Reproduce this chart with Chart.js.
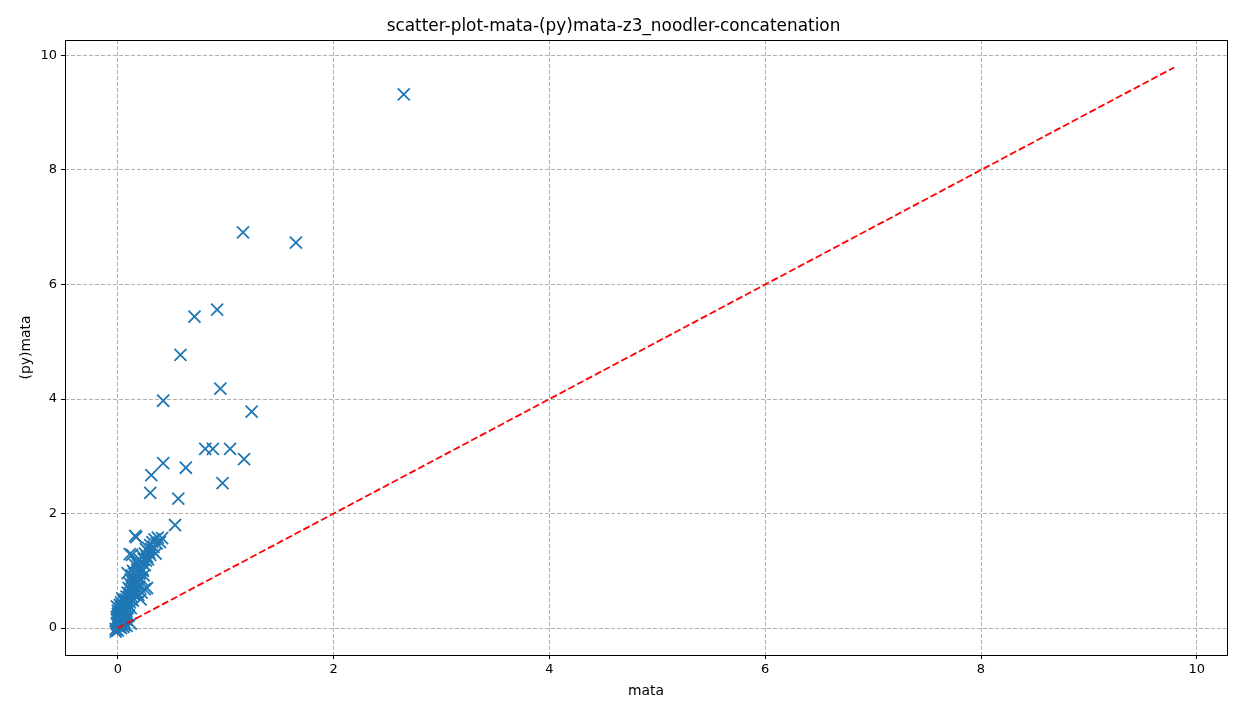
<!DOCTYPE html>
<html>
<head>
<meta charset="utf-8">
<script src="https://cdn.jsdelivr.net/npm/chart.js@4"></script>
<style>
html,body{margin:0;padding:0;background:#fff;}
#wrap{width:1247px;height:719px;}
</style>
</head>
<body>
<div id="wrap"><canvas id="c" width="1247" height="719"></canvas></div>
<script>
const chartTitle = "scatter-plot-mata-(py)mata-z3_noodler-concatenation";
const xLabel = "mata";
const yLabel = "(py)mata";

const mataX = [
  2.65, 1.16, 1.65, 0.71, 0.92, 0.58, 0.95, 0.42, 1.24, 0.81, 0.88, 1.04, 1.17, 0.63, 0.42, 0.31, 0.30, 0.56, 0.97, 0.53,
  0.00, 0.00, 0.00, 0.00, 0.00, -0.01, -0.01, 0.01, 0.01, 0.01, 0.01, 0.01, 0.02, 0.02, 0.02, 0.02, 0.02, 0.03, 0.03, 0.03,
  0.03, 0.03, 0.04, 0.04, 0.04, 0.04, 0.05, 0.05, 0.05, 0.05, 0.05, 0.06, 0.06, 0.06, 0.06, 0.07, 0.07, 0.07, 0.08, 0.08,
  0.08, 0.08, 0.09, 0.09, 0.09, 0.10, 0.10, 0.10, 0.10, 0.11, 0.11, 0.11, 0.12, 0.12, 0.12, 0.12, 0.13, 0.13, 0.13, 0.14,
  0.14, 0.14, 0.14, 0.15, 0.15, 0.15, 0.16, 0.16, 0.16, 0.17, 0.17, 0.17, 0.18, 0.18, 0.18, 0.19, 0.19, 0.20, 0.20, 0.20,
  0.21, 0.21, 0.22, 0.22, 0.23, 0.23, 0.24, 0.24, 0.25, 0.25, 0.26, 0.26, 0.27, 0.28, 0.28, 0.29, 0.30, 0.30, 0.31, 0.32,
  0.33, 0.34, 0.35, 0.36, 0.37, 0.39, 0.41, 0.27, 0.25, 0.22, 0.17, 0.16, 0.13, 0.11, 0.09, -0.02, 0.05, 0.12, 0.19, 0.23,
  -0.02, 0.00, 0.03, 0.06, 0.08, 0.02, -0.01, 0.04
];
const pymataY = [
  9.32, 6.91, 6.73, 5.44, 5.56, 4.77, 4.18, 3.97, 3.78, 3.13, 3.13, 3.13, 2.95, 2.80, 2.88, 2.67, 2.36, 2.26, 2.53, 1.80,
  0.05, 0.12, 0.18, 0.25, 0.30, 0.08, 0.15, 0.02, 0.10, 0.20, 0.28, 0.35, 0.05, 0.15, 0.22, 0.32, 0.40, 0.08, 0.18, 0.26,
  0.36, 0.45, 0.12, 0.22, 0.30, 0.42, 0.03, 0.15, 0.28, 0.38, 0.48, 0.10, 0.20, 0.33, 0.45, 0.25, 0.38, 0.50, 0.15, 0.30,
  0.44, 0.55, 0.35, 0.48, 0.62, 0.22, 0.40, 0.55, 0.70, 0.45, 0.60, 0.78, 0.35, 0.50, 0.66, 0.85, 0.55, 0.72, 0.92, 0.48,
  0.62, 0.80, 1.00, 0.58, 0.75, 0.95, 0.65, 0.85, 1.10, 0.70, 0.92, 1.15, 0.62, 0.80, 1.02, 0.88, 1.10, 0.72, 0.95, 1.20,
  0.50, 1.05, 0.85, 1.15, 1.00, 1.25, 0.92, 1.20, 1.10, 1.30, 1.18, 1.38, 1.25, 1.20, 1.40, 1.32, 1.45, 1.28, 1.38, 1.50,
  1.42, 1.55, 1.30, 1.48, 1.58, 1.50, 1.57, 0.70, 0.68, 0.62, 1.59, 1.61, 1.28, 1.29, 0.96, -0.02, 0.02, 0.08, 0.58, 1.02,
  -0.06, -0.04, 0.00, 0.06, 0.04, 0.40, 0.38, 0.52
];
const diagX = [0, 9.79];
const diagY = [0, 9.79];

const scatterPts = mataX.map((x, i) => ({x: x, y: pymataY[i]}));
const diagPts = diagX.map((x, i) => ({x: x, y: diagY[i]}));

const framePlugin = {
  id: 'frame',
  afterDraw(chart) {
    const {ctx, chartArea: a} = chart;
    ctx.save();
    ctx.strokeStyle = '#000';
    ctx.lineWidth = 1;
    ctx.strokeRect(Math.round(a.left) + 0.5, Math.round(a.top) + 0.5, Math.round(a.right - a.left), Math.round(a.bottom - a.top));
    ctx.restore();
  }
};

const tickFont = {family: "'DejaVu Sans', sans-serif", size: 13};
const labelFont = {family: "'DejaVu Sans', sans-serif", size: 13.9};

new Chart(document.getElementById('c'), {
  type: 'scatter',
  data: {
    datasets: [
      {
        data: scatterPts,
        pointStyle: 'crossRot',
        radius: 8.5,
        hoverRadius: 8.5,
        borderColor: '#1f77b4',
        backgroundColor: '#1f77b4',
        borderWidth: 1.8,
        order: 2
      },
      {
        type: 'line',
        data: diagPts,
        borderColor: '#ff0000',
        borderWidth: 1.8,
        borderDash: [7, 3],
        pointRadius: 0,
        fill: false,
        order: 1
      }
    ]
  },
  options: {
    responsive: false,
    animation: false,
    events: [],
    layout: {padding: {left: 0, right: 20, top: 0, bottom: 0}},
    plugins: {
      legend: {display: false},
      tooltip: {enabled: false},
      title: {
        display: true,
        text: chartTitle,
        color: '#000',
        font: {family: "'DejaVu Sans', sans-serif", size: 16.9, weight: 'normal'},
        padding: {top: 16.5, bottom: 3.2}
      }
    },
    scales: {
      x: {
        type: 'linear',
        min: -0.49,
        max: 10.28,
        afterFit(s) { s.height = 64; },
        ticks: {stepSize: 2, includeBounds: false, color: '#000', font: tickFont, padding: 3, maxRotation: 0},
        grid: {color: '#b0b0b0', lineWidth: 1, drawTicks: true, tickLength: 4, tickColor: '#000', tickBorderDash: []},
        border: {display: false, dash: [4, 2]},
        title: {display: true, text: xLabel, color: '#000', font: labelFont, padding: {top: 0, bottom: 19.5}}
      },
      y: {
        type: 'linear',
        min: -0.47,
        max: 10.27,
        afterFit(s) { s.width = 65; },
        ticks: {stepSize: 2, includeBounds: false, color: '#000', font: tickFont, padding: 4},
        grid: {color: '#b0b0b0', lineWidth: 1, drawTicks: true, tickLength: 4, tickColor: '#000', tickBorderDash: []},
        border: {display: false, dash: [4, 2]},
        title: {display: true, text: yLabel, color: '#000', font: labelFont, padding: {top: 18.5, bottom: 0}}
      }
    }
  },
  plugins: [framePlugin]
});
</script>
</body>
</html>
